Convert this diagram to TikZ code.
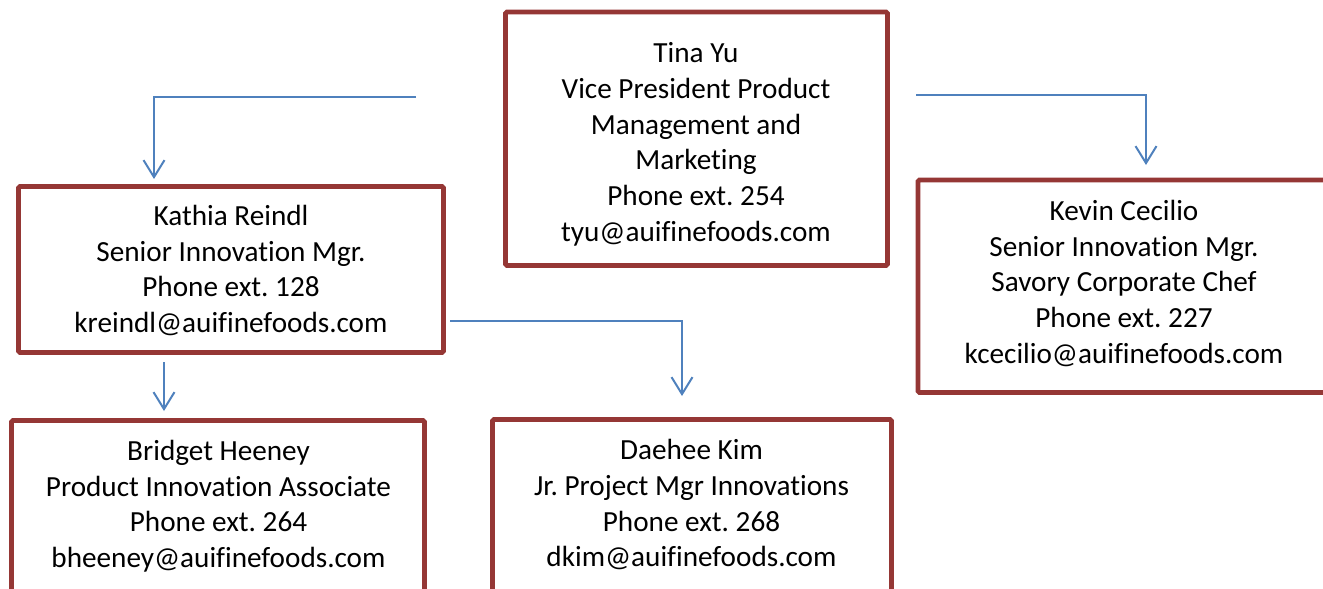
\documentclass[tikz,border=0pt]{standalone}
\usepackage{fontspec}
\setmainfont{Carlito}[Ligatures={NoCommon}]
\frenchspacing
\usetikzlibrary{arrows.meta}
\definecolor{boxred}{RGB}{149,55,53}
\definecolor{lineblue}{RGB}{79,129,189}
\tikzset{
  orgbox/.style={draw=boxred, line width=4.8pt, rounded corners=1.5pt, rectangle, inner sep=0pt},
  orgtext/.style={align=center, inner sep=0pt, font=\fontsize{29.2}{35.7}\selectfont, text=black},
  link/.style={draw=lineblue, line width=2pt, -{Straight Barb[length=17pt,width=21pt,line width=2pt]}}
}
\begin{document}
\begin{tikzpicture}[x=1pt,y=-1pt]
\useasboundingbox (0,0) rectangle (1323,589);
\clip (0,0) rectangle (1323,589);
% boxes
\node[orgbox, minimum width=382pt, minimum height=253.5pt] (tinabox) at (696.5,138.75) {};
\node[orgbox, minimum width=425pt, minimum height=166pt] (kathiabox) at (231,269.5) {};
\node[orgbox, minimum width=412pt, minimum height=212.5pt] (kevinbox) at (1124,286.25) {};
\node[orgbox, minimum width=399pt, minimum height=174.5pt] (daeheebox) at (692,506.75) {};
\node[orgbox, minimum width=413pt, minimum height=174.5pt] (bridgetbox) at (218,507.75) {};
% texts
\node[orgtext] (tina) at (696,144.4) {Tina Yu\\Vice President Product\\Management and\\Marketing\\Phone ext. 254\\tyu@auifinefoods.com};
\node[orgtext] (kathia) at (231,270.6) {Kathia Reindl\\Senior Innovation Mgr.\\Phone ext. 128\\kreindl@auifinefoods.com};
\node[orgtext] (kevin) at (1124,283.5) {Kevin Cecilio\\Senior Innovation Mgr.\\Savory Corporate Chef\\Phone ext. 227\\kcecilio@auifinefoods.com};
\node[orgtext] (daehee) at (691.5,504.7) {Daehee Kim\\Jr. Project Mgr Innovations\\Phone ext. 268\\dkim@auifinefoods.com};
\node[orgtext] (bridget) at (218.5,506.3) {Bridget Heeney\\Product Innovation Associate\\Phone ext. 264\\bheeney@auifinefoods.com};
% connector end points
\coordinate (s1) at (416,97);
\coordinate (t1) at (154,179);
\coordinate (s2) at (916,95);
\coordinate (t2) at (1146,165);
\coordinate (s3) at (450,321);
\coordinate (t3) at (682,396);
\coordinate (s4) at (164,362);
\coordinate (t4) at (164,411);
\draw[link] (s1) -| (t1);
\draw[link] (s2) -| (t2);
\draw[link] (s3) -| (t3);
\draw[link] (s4) -- (t4);
\end{tikzpicture}
\end{document}
